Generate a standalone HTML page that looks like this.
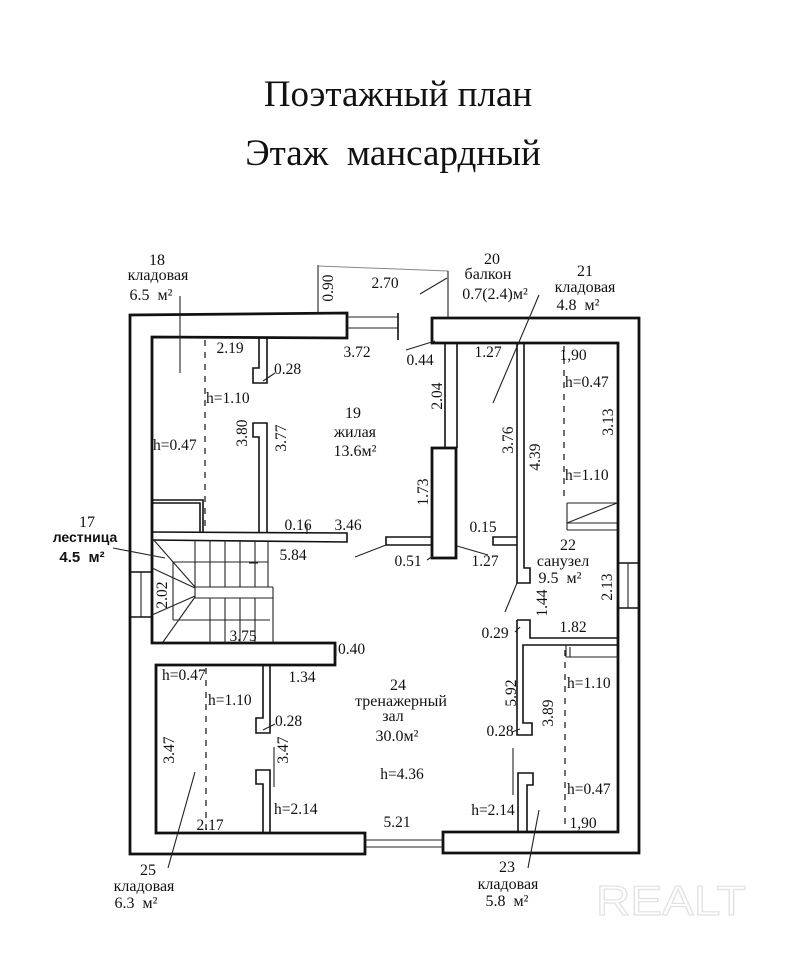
<!DOCTYPE html>
<html><head><meta charset="utf-8"><style>
html,body{margin:0;padding:0;background:#fff;}
svg{display:block;}
text{font-family:"Liberation Serif","Noto Serif CJK SC",serif;fill:#111;}
.d{font-size:15.5px;}
.l{font-size:16px;}
.w{stroke:#111;stroke-width:2.8;fill:none;}
.t{stroke:#111;stroke-width:1.6;fill:none;}
.h{stroke:#222;stroke-width:1.1;fill:none;}
.ds{stroke:#222;stroke-width:1.3;fill:none;stroke-dasharray:6 6;}
</style></head><body>
<svg width="786" height="957" viewBox="0 0 786 957" xmlns="http://www.w3.org/2000/svg">
<rect width="786" height="957" fill="#fff"/>
<!-- Title -->
<text x="398" y="106" text-anchor="middle" style="font-size:37px">Поэтажный план</text>
<text x="393" y="165" text-anchor="middle" style="font-size:37px" xml:space="preserve">Этаж  мансардный</text>

<!-- Outer walls -->
<path class="w" d="M347,313 L130,315 L130,854 L365,854 L365,833 L156,833 L156,665 L335,665 L335,643 L152,643 L152,337 L347,338 Z"/>
<line class="t" x1="130" y1="572" x2="152" y2="572"/>
<line class="t" x1="130" y1="617" x2="152" y2="617"/>
<line class="h" x1="141" y1="572" x2="141" y2="617"/>
<!-- top-right + right + bottom-right wall -->
<path class="w" d="M432,318 L639,318 L639,853 L443,853 L443,832 L618,832 L618,343 L432,343 Z"/>
<line class="t" x1="618" y1="563" x2="639" y2="563"/>
<line class="t" x1="618" y1="608" x2="639" y2="608"/>
<line class="h" x1="628" y1="563" x2="628" y2="608"/>
<!-- bottom door -->
<line class="h" x1="365" y1="840" x2="443" y2="840"/>
<line class="h" x1="365" y1="847" x2="443" y2="847"/>
<!-- balcony door -->
<line class="h" x1="347" y1="317" x2="398" y2="317"/>
<line class="h" x1="347" y1="328" x2="398" y2="328"/>
<line class="t" x1="398" y1="313" x2="398" y2="340"/>
<!-- balcony outline -->
<line class="h" x1="318" y1="265" x2="318" y2="313"/>
<line x1="318" y1="266" x2="448" y2="271" stroke="#888" stroke-width="1"/>
<line class="h" x1="448" y1="271" x2="448" y2="318"/>

<!-- room 18/19 partition -->
<path class="t" d="M259,337 L259,368 L253,368 L253,383 L267,383 L267,337"/>
<path class="t" d="M259,532 L259,437 L253,437 L253,423 L267,423 L267,532"/>
<line class="ds" x1="205" y1="340" x2="205" y2="530"/>
<path class="t" d="M152,500 L203,500 L203,532 M152,503 L200,503 L200,532"/>
<!-- horizontal partition 18-19 / stairs -->
<path class="t" d="M152,532 L347,533 L347,542 L152,540"/>

<!-- stairs -->
<g class="h" stroke-width="1.2">
<line x1="195" y1="540" x2="195" y2="587"/>
<line x1="210" y1="540" x2="210" y2="587"/>
<line x1="225" y1="540" x2="225" y2="587"/>
<line x1="240" y1="540" x2="240" y2="587"/>
<line x1="255" y1="541" x2="255" y2="587"/>
<line x1="268" y1="541" x2="268" y2="587"/>
<line x1="173" y1="562" x2="268" y2="562"/>
<line x1="195" y1="587" x2="273" y2="587"/>
<line x1="195" y1="598" x2="273" y2="598"/>
<line x1="273" y1="587" x2="273" y2="643"/>
<line x1="210" y1="598" x2="210" y2="643"/>
<line x1="225" y1="598" x2="225" y2="643"/>
<line x1="240" y1="598" x2="240" y2="643"/>
<line x1="255" y1="598" x2="255" y2="643"/>
<line x1="173" y1="620" x2="270" y2="620"/>
<line x1="173" y1="562" x2="173" y2="620"/>
<line x1="152" y1="538" x2="195" y2="587"/>
<line x1="152" y1="568" x2="195" y2="588"/>
<line x1="152" y1="615" x2="195" y2="596"/>
<line x1="163" y1="642" x2="195" y2="597"/>
<line x1="195" y1="587" x2="195" y2="598"/>
</g>

<!-- room 24/25 partition -->
<path class="t" d="M263,665 L263,718 L256,718 L256,733 L270,733 L270,665"/>
<path class="t" d="M263,833 L263,784 L256,784 L256,770 L270,770 L270,833"/>
<line class="ds" x1="206" y1="668" x2="206" y2="832"/>
<line class="h" x1="274" y1="747" x2="274" y2="787"/>

<!-- middle partition & pillar -->
<line class="t" x1="445" y1="343" x2="445" y2="448"/>
<line class="t" x1="457" y1="343" x2="457" y2="448"/>
<rect x="432" y="448" width="24" height="110" fill="#fff" stroke="#111" stroke-width="2.8"/>
<path class="t" d="M432,537 L386,537 L386,545 L432,545"/>

<!-- right partition -->
<path class="t" d="M524,343 L524,568 L530,568 L530,583 L517,583 L517,343"/>
<path class="t" d="M517,537 L493,537 L493,545 L517,545"/>
<line class="ds" x1="564" y1="346" x2="564" y2="500"/>
<!-- small stair in 21 -->
<path class="h" d="M567,503 L617,503 M567,503 L567,530 M567,523 L617,523 M567,530 L617,530 M567,523 L617,503"/>

<!-- room 22 / 23 partition -->
<path class="t" d="M517,620 L530,620 L530,638 L618,638"/>
<path class="t" d="M517,620 L517,735 L532,735 L532,723 L523,723 L523,645 L618,645"/>
<path class="t" d="M518,833 L518,773 L533,773 L533,785 L527,785 L527,833"/>
<path class="h" d="M566,645 L566,657 L618,657 M570,647 L570,657"/>
<line class="ds" x1="565" y1="650" x2="565" y2="830"/>
<line class="h" x1="513" y1="748" x2="513" y2="795"/>

<!-- leaders -->
<g class="h">
<line x1="180" y1="296" x2="180" y2="373"/>
<line x1="539" y1="295" x2="493" y2="403"/>
<line x1="420" y1="294" x2="447" y2="278"/>
<line x1="435" y1="341" x2="406" y2="350"/>
<line x1="263" y1="381" x2="275" y2="373"/>
<line x1="113" y1="548" x2="165" y2="558"/>
<line x1="386" y1="545" x2="355" y2="557"/>
<line x1="433" y1="556" x2="427" y2="560"/>
<line x1="457" y1="546" x2="488" y2="555"/>
<line x1="517" y1="583" x2="505" y2="612"/>
<line x1="515" y1="632" x2="520" y2="627"/>
<line x1="195" y1="772" x2="168" y2="868"/>
<line x1="539" y1="810" x2="528" y2="868"/>
<line x1="263" y1="730" x2="275" y2="724"/>
<line x1="512" y1="732" x2="520" y2="729"/>
<line x1="336" y1="645" x2="336" y2="656"/>
<line x1="307" y1="524" x2="307" y2="534"/>
<line x1="249" y1="563" x2="258" y2="563"/>
</g>

<!-- labels -->
<g class="l" text-anchor="middle">
<text x="157" y="265">18</text>
<text x="158" y="280">кладовая</text>
<text x="151" y="300" xml:space="preserve">6.5  м²</text>
<text x="353" y="418">19</text>
<text x="355" y="437">жилая</text>
<text x="355" y="456">13.6м²</text>
<text x="492" y="264">20</text>
<text x="488" y="279">балкон</text>
<text x="495" y="299">0.7(2.4)м²</text>
<text x="585" y="276">21</text>
<text x="585" y="292">кладовая</text>
<text x="578" y="310" xml:space="preserve">4.8  м²</text>
<text x="568" y="550">22</text>
<text x="563" y="566">санузел</text>
<text x="560" y="583" xml:space="preserve">9.5  м²</text>
<text x="398" y="690">24</text>
<text x="401" y="706">тренажерный</text>
<text x="393" y="721">зал</text>
<text x="397" y="741">30.0м²</text>
<text x="507" y="872">23</text>
<text x="508" y="889">кладовая</text>
<text x="507" y="906" xml:space="preserve">5.8  м²</text>
<text x="148" y="875">25</text>
<text x="144" y="891">кладовая</text>
<text x="136" y="908" xml:space="preserve">6.3  м²</text>
<text x="87" y="527">17</text>
</g>
<text x="85" y="542" text-anchor="middle" style="font-family:'Liberation Sans',sans-serif;font-size:14px;font-weight:bold">лестница</text>
<text x="82" y="562" text-anchor="middle" style="font-family:'Liberation Sans',sans-serif;font-size:15px;font-weight:bold" xml:space="preserve">4.5  м²</text>

<g class="d" text-anchor="middle">
<text x="385" y="288">2.70</text>
<text x="357" y="357">3.72</text>
<text x="420" y="365">0.44</text>
<text x="488" y="357">1.27</text>
<text x="573" y="360">1,90</text>
<text x="230" y="353">2.19</text>
<text x="298" y="530">0.16</text>
<text x="348" y="530">3.46</text>
<text x="293" y="560">5.84</text>
<text x="408" y="566">0.51</text>
<text x="485" y="566">1.27</text>
<text x="483" y="532">0.15</text>
<text x="243" y="641">3.75</text>
<text x="302" y="682">1.34</text>
<text x="210" y="830">2.17</text>
<text x="402" y="779">h=4.36</text>
<text x="397" y="827">5.21</text>
<text x="500" y="736">0.28</text>
<text x="493" y="815">h=2.14</text>
<text x="583" y="828">1,90</text>
<text x="495" y="638">0.29</text>
<text x="573" y="632">1.82</text>
</g>
<g class="d">
<text x="274" y="374">0.28</text>
<text x="206" y="403">h=1.10</text>
<text x="153" y="450">h=0.47</text>
<text x="565" y="387">h=0.47</text>
<text x="565" y="480">h=1.10</text>
<text x="338" y="654">0.40</text>
<text x="162" y="680">h=0.47</text>
<text x="208" y="705">h=1.10</text>
<text x="275" y="726">0.28</text>
<text x="274" y="814">h=2.14</text>
<text x="567" y="688">h=1.10</text>
<text x="567" y="794">h=0.47</text>
</g>
<!-- rotated dims -->
<g class="d" text-anchor="middle">
<text transform="translate(333,288) rotate(-90)">0.90</text>
<text transform="translate(442,396) rotate(-90)">2.04</text>
<text transform="translate(513,440) rotate(-90)">3.76</text>
<text transform="translate(540,457) rotate(-90)">4.39</text>
<text transform="translate(428,492) rotate(-90)">1.73</text>
<text transform="translate(613,422) rotate(-90)">3.13</text>
<text transform="translate(247,433) rotate(-90)">3.80</text>
<text transform="translate(286,438) rotate(-90)">3.77</text>
<text transform="translate(167,595) rotate(-90)">2.02</text>
<text transform="translate(174,750) rotate(-90)">3.47</text>
<text transform="translate(288,750) rotate(-90)">3.47</text>
<text transform="translate(547,603) rotate(-90)">1.44</text>
<text transform="translate(612,587) rotate(-90)">2.13</text>
<text transform="translate(516,693) rotate(-90)">5.92</text>
<text transform="translate(553,713) rotate(-90)">3.89</text>
</g>

<!-- watermark -->
<text x="596" y="915" textLength="150" lengthAdjust="spacingAndGlyphs" style="font-family:'Liberation Sans',sans-serif;font-size:42px;fill:#fff;stroke:#e2e2e2;stroke-width:1.2">REALT</text>
</svg>
</body></html>
